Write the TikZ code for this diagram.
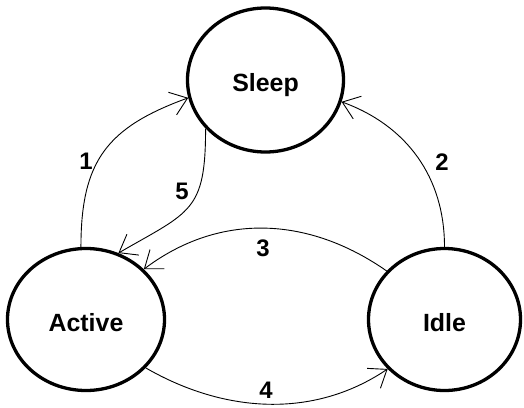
\documentclass[tikz,border=0pt]{standalone}
\usepackage{fontspec}
\setmainfont{Liberation Sans}
\usetikzlibrary{shapes.geometric,arrows.meta}
\begin{document}
\begin{tikzpicture}[x=1bp,y=1bp,
  state/.style={ellipse, draw, line width=3.3bp, inner sep=0pt, text height=23bp, text depth=0pt, font=\bfseries\fontsize{25}{25}\selectfont},
  trans/.style={line width=0.9bp, -{Straight Barb[length=16bp,width=24bp,line width=0.9bp]}},
  lbl/.style={font=\bfseries\fontsize{24}{24}\selectfont}]
\useasboundingbox (0,0) rectangle (524,407);
\node[state, minimum width=156bp, minimum height=144bp] (Sleep) at (265.5,327) {Sleep};
\node[state, minimum width=157bp, minimum height=142bp] (Active) at (86,87.5) {Active};
\node[state, minimum width=152bp, minimum height=142bp] (Idle) at (444.5,87.5) {Idle};
\draw[trans] (Active.94) to[out=90,in=200,looseness=1.2] (Sleep.193.6);
\draw[trans] (Idle.90) to[out=90,in=-20,looseness=1.0] (Sleep.-16);
\draw[trans] (Sleep.219.7) to[out=270,in=30,looseness=1.4] (Active.64.6);
\draw[trans] (Idle.140.4) to[out=145,in=37] (Active.41);
\draw[trans] (Active.-39) to[out=-30,in=214,looseness=0.95] (Idle.221.8);
\node[lbl] (l1) at (86,246) {1};
\node[lbl] (l2) at (442,245) {2};
\node[lbl] (l5) at (182,216) {5};
\node[lbl] (l3) at (263,159) {3};
\node[lbl] (l4) at (266,17) {4};
\end{tikzpicture}
\end{document}
